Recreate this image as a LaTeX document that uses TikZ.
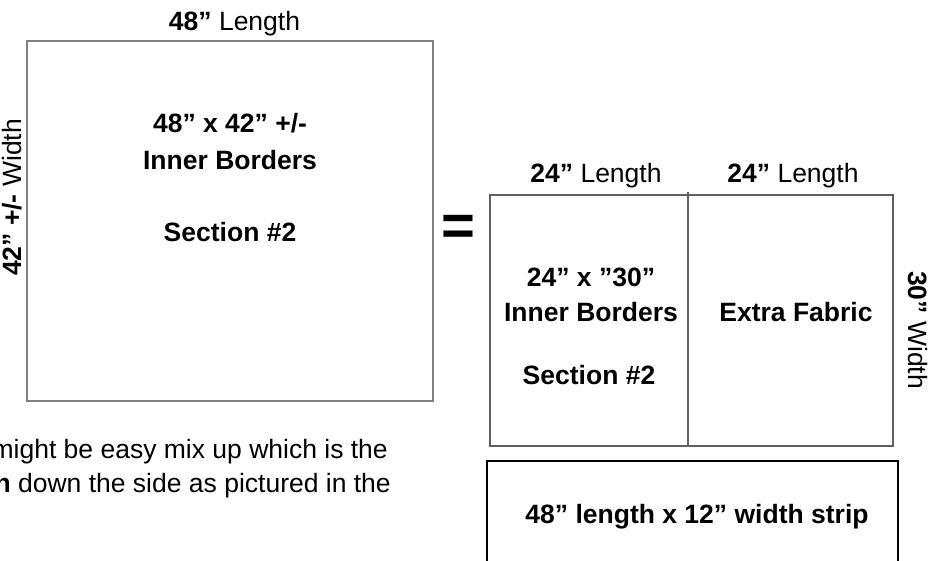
\documentclass[tikz,border=0pt]{standalone}
\usepackage{fontspec}
\setmainfont{Liberation Sans}
\usepackage{xcolor}
\usetikzlibrary{positioning, calc}
\definecolor{edgegray}{RGB}{128, 128, 128}
\definecolor{splitgray}{RGB}{96, 96, 96}
\tikzset{
  piece/.style={draw=edgegray, line width=1.5pt},
  lbl/.style={font=\fontsize{26.5}{30}\selectfont, inner sep=0pt, anchor=base},
  blbl/.style={lbl, font=\fontsize{26.5}{30}\selectfont\bfseries},
}

\begin{document}
\begin{tikzpicture}[x=1pt, y=-1pt]
    \useasboundingbox (0,0) rectangle (928,560);

    % 48 x 42 piece
    \draw[piece] (27,41) rectangle (433,401);
    \node[lbl] (topLen) at (234.5,30) {\textbf{48”} Length};
    \node[lbl, rotate=90] (leftWid) at (21,197.5) {\textbf{42” +/-} Width};
    \node[blbl] (bigA) at (230,132) {48” x 42” +/-};
    \node[blbl] (bigB) at (230,169) {Inner Borders};
    \node[blbl] (bigC) at (230,241) {Section \#2};

    \node[font=\fontsize{58}{60}\selectfont\bfseries, inner sep=0pt] (equals) at (458.5,230) {=};

    % cut pieces
    \draw[piece, draw=splitgray] (490,195) rectangle (893,446);
    \draw[piece, draw=splitgray] (688,192) -- (688,446);
    \node[lbl] (lenA) at (596,182) {\textbf{24”} Length};
    \node[lbl] (lenB) at (793,182) {\textbf{24”} Length};
    \node[blbl] (cutA) at (591,286) {24” x ”30”};
    \node[blbl] (cutB) at (591,321) {Inner Borders};
    \node[blbl] (cutC) at (589,384) {Section \#2};
    \node[blbl] (extra) at (796,321) {Extra Fabric};
    \node[lbl, rotate=-90] (rightWid) at (908,330) {\textbf{30”} Width};

    % strip
    \draw[line width=1.5pt] (487,461) rectangle (898,580);
    \node[blbl] (strip) at (697,523) {48” length x 12” width strip};

    % note
    \node[lbl, anchor=base east] (noteA) at (388,458) {might be easy mix up which is the};
    \node[lbl, anchor=base east] (noteB) at (391,492) {\textbf{n} down the side as pictured in the};
\end{tikzpicture}
\end{document}
